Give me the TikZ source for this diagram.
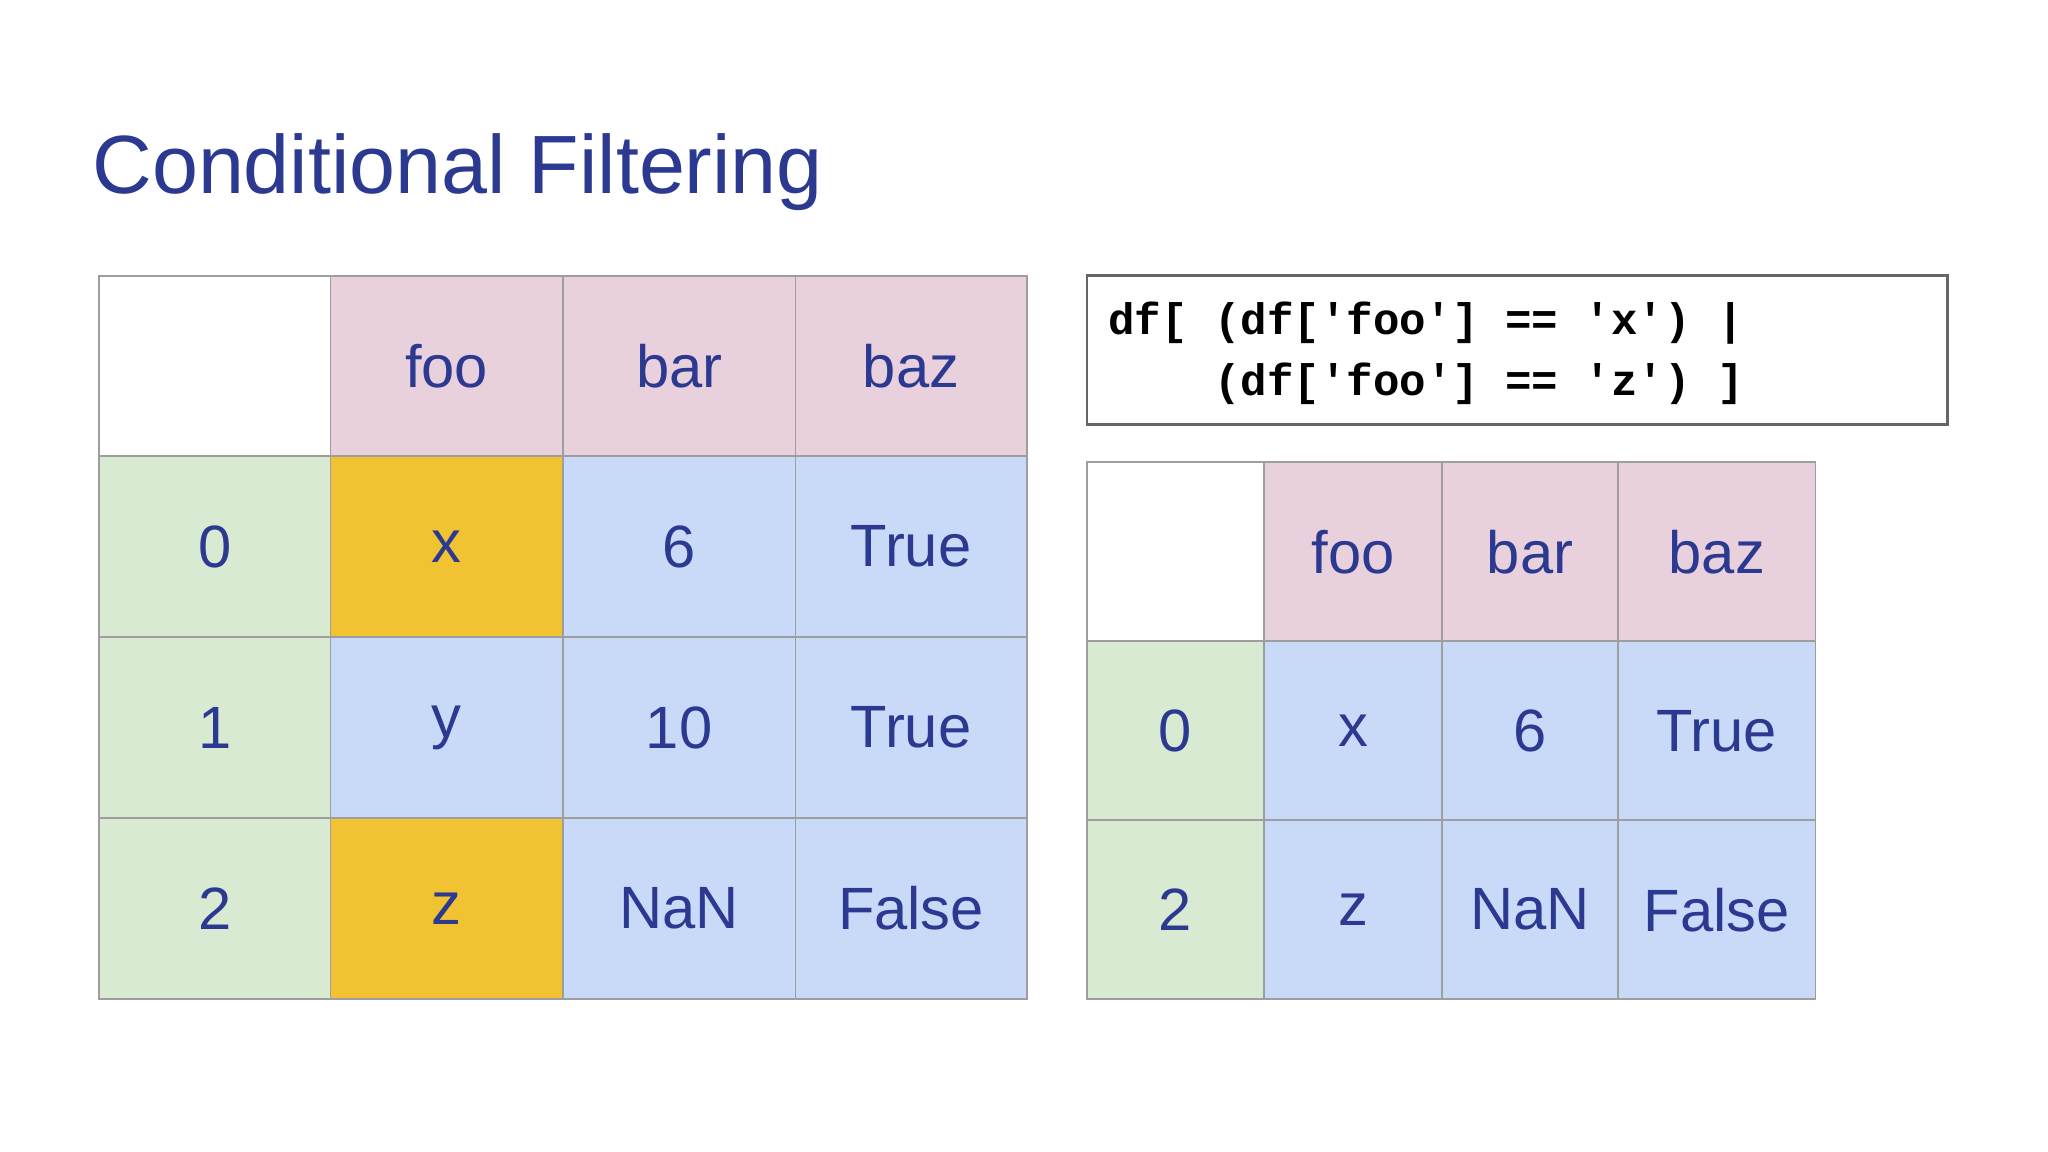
\documentclass[tikz,border=0pt]{standalone}
\usepackage{fontspec}
\setmainfont{Liberation Sans}
\setmonofont{Liberation Mono}
\definecolor{txt}{HTML}{2B3990}
\definecolor{pinkc}{HTML}{E8D1DC}
\definecolor{greenc}{HTML}{D9EAD3}
\definecolor{bluec}{HTML}{C9DAF8}
\definecolor{orangec}{HTML}{F1C232}
\definecolor{gridc}{HTML}{9E9E9E}
\begin{document}
\begin{tikzpicture}[x=0.01cm,y=-0.01cm,
  cellbox/.style={draw=gridc,line width=0.4pt,text=txt,font=\fontsize{13}{15}\selectfont}]
\useasboundingbox[fill=white] (0,0) rectangle (1568,882);
\node[anchor=base west,text=txt,font=\fontsize{18}{20}\selectfont,inner sep=0] (title) at (70,148) {Conditional Filtering};
% left table
\def\cx{{76,253,431,609,786}}
\def\ry{{211,349,488,626,765}}
\foreach \r/\c/\col/\t [count=\i] in {
 0/0/white/{},0/1/pinkc/foo,0/2/pinkc/bar,0/3/pinkc/baz,
 1/0/greenc/0,1/1/orangec/x,1/2/bluec/6,1/3/bluec/True,
 2/0/greenc/1,2/1/bluec/y,2/2/bluec/10,2/3/bluec/True,
 3/0/greenc/2,3/1/orangec/z,3/2/bluec/NaN,3/3/bluec/False}{
 \pgfmathsetmacro\xa{\cx[\c]}\pgfmathsetmacro\xb{\cx[\c+1]}
 \pgfmathsetmacro\ya{\ry[\r]}\pgfmathsetmacro\yb{\ry[\r+1]}
 \draw[fill=\col,draw=gridc] (\xa,\ya) rectangle (\xb,\yb);
 \node[text=txt,font=\fontsize{13}{15}\selectfont] (L\i) at ({(\xa+\xb)/2},{(\ya+\yb)/2}) {\t};
}
% right table
\def\dx{{832,968,1104,1239,1390}}
\def\sy{{354,491,628,765}}
\foreach \r/\c/\col/\t [count=\i] in {
 0/0/white/{},0/1/pinkc/foo,0/2/pinkc/bar,0/3/pinkc/baz,
 1/0/greenc/0,1/1/bluec/x,1/2/bluec/6,1/3/bluec/True,
 2/0/greenc/2,2/1/bluec/z,2/2/bluec/NaN,2/3/bluec/False}{
 \pgfmathsetmacro\xa{\dx[\c]}\pgfmathsetmacro\xb{\dx[\c+1]}
 \pgfmathsetmacro\ya{\sy[\r]}\pgfmathsetmacro\yb{\sy[\r+1]}
 \draw[fill=\col,draw=gridc] (\xa,\ya) rectangle (\xb,\yb);
 \node[text=txt,font=\fontsize{13}{15}\selectfont] (R\i) at ({(\xa+\xb)/2},{(\ya+\yb)/2}) {\t};
}
% code box
\draw[draw=black!60,line width=0.5pt] (832,211) rectangle (1491,325);
\node[anchor=base west,inner sep=0,font=\ttfamily\bfseries\fontsize{9.6}{13.4}\selectfont] (code1) at (848,256) {df[ (df['foo'] == 'x') |};
\node[anchor=base west,inner sep=0,font=\ttfamily\bfseries\fontsize{9.6}{13.4}\selectfont] (code2) at (848,303) {\phantom{df[ }(df['foo'] == 'z') ]};
\end{tikzpicture}
\end{document}
